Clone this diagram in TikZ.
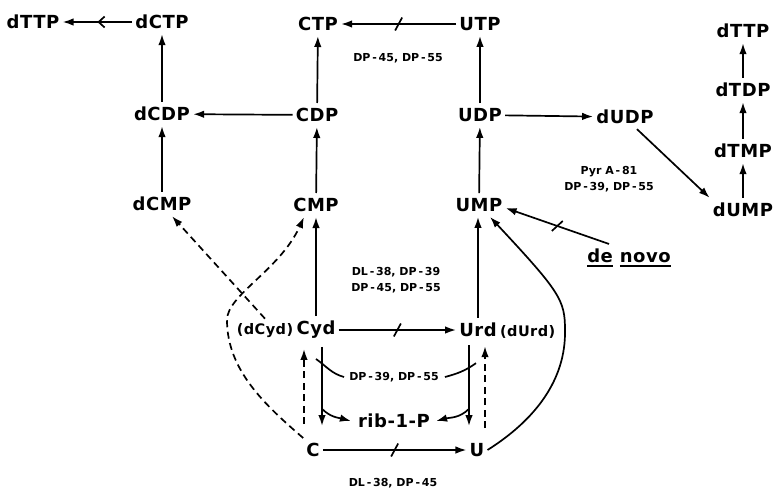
\documentclass[tikz,border=0pt]{standalone}
\usepackage{fontspec}
\setmainfont{DejaVu Sans}
\newfontfamily\metfont[LetterSpace=3]{DejaVu Sans Bold}
\usetikzlibrary{arrows.meta,decorations.markings,positioning,calc}

% thick underline as in the printed figure
\newcommand{\thickunder}[1]{\setbox0=\hbox{#1}\rlap{\rule[-4pt]{\wd0}{2pt}}\box0\relax}

\tikzset{
  met/.style={font=\metfont\fontsize{18}{20}\selectfont, inner xsep=3pt, inner ysep=5pt},
  submet/.style={font=\metfont\fontsize{14.5}{17}\selectfont, inner xsep=0pt, inner ysep=5pt},
  strain/.style={font=\bfseries\fontsize{11}{16}\selectfont, align=center, inner sep=1pt},
  arr/.style={-{Latex[length=11pt,width=7.5pt]}, line width=1.7pt},
  dsh/.style={arr, dash pattern=on 7pt off 4.5pt},
  leader/.style={line width=1.7pt},
  blocked/.style={postaction={decorate}, decoration={markings,
      mark=at position 0.5 with {\draw[-,line width=1.7pt] (-3.5pt,-6.5pt) -- (3.5pt,6.5pt);}}},
  midbarb/.style={postaction={decorate}, decoration={markings,
      mark=at position 0.5 with {\arrow[line width=1.7pt]{Straight Barb[length=6pt,width=11pt]}}}}
}

\begin{document}
\begin{tikzpicture}[x=1pt,y=1pt]
  \useasboundingbox (0,0) rectangle (773,-491);

  % top rows
  \node[met] (dTTPl) at (33,-22) {dTTP};
  \node[met] (dCTP) at (162,-22) {dCTP};
  \node[met] (CTP) at (318,-24) {CTP};
  \node[met] (UTP) at (480,-24) {UTP};
  \node[met] (dCDP) at (162,-114) {dCDP};
  \node[met] (CDP) at (317,-115) {CDP};
  \node[met] (UDP) at (480,-115) {UDP};
  \node[met] (dUDP) at (625,-117) {dUDP};
  \node[met] (dCMP) at (162,-204) {dCMP};
  \node[met] (CMP) at (316,-205) {CMP};
  \node[met] (UMP) at (479,-205) {UMP};

  % thymidine column
  \node[met] (dTTPr) at (743,-31) {dTTP};
  \node[met] (dTDP) at (743,-90) {dTDP};
  \node[met] (dTMP) at (743,-151) {dTMP};
  \node[met] (dUMP) at (743,-210) {dUMP};
  \node[met] (denovo) at (629,-258) {\thickunder{de} \thickunder{novo}};

  % salvage part
  \node[met] (Cyd) at (316,-330) {Cyd};
  \node[submet, anchor=base east] (dCyd) at (Cyd.base west) {(dCyd)};
  \node[met] (Urd) at (478,-330) {Urd};
  \node[submet, anchor=base west] (dUrd) at (Urd.base east) {(dUrd)};
  \node[met] (rib) at (394,-421) {rib-1-P};
  \node[met] (C) at (313,-450) {C};
  \node[met] (U) at (477,-450) {U};

  % strains
  \node[strain] (sUTP) at (398,-58) {DP\,-\,45, DP\,-\,55};
  \node[strain] (sdUDP) at (609,-179) {Pyr A\,-\,81\\DP\,-\,39, DP\,-\,55};
  \node[strain] (sCyd) at (396,-280) {DL\,-\,38, DP\,-\,39\\DP\,-\,45, DP\,-\,55};
  \node[strain] (srib) at (394,-377) {DP\,-\,39, DP\,-\,55};
  \node[strain] (sC) at (393,-483) {DL\,-\,38, DP\,-\,45};

  % phosphorylations
  \draw[arr, midbarb] (dCTP) -- (dTTPl);
  \draw[arr] (dCMP) -- (dCDP);
  \draw[arr] (dCDP) -- (dCTP);
  \draw[arr] (CDP) -- (dCDP);
  \draw[arr] (CMP) -- (CDP);
  \draw[arr] (CDP) -- (CTP);
  \draw[arr, blocked] (UTP) -- (CTP);
  \draw[arr] (UMP) -- (UDP);
  \draw[arr] (UDP) -- (UTP);
  \draw[arr] (UDP) -- (dUDP);
  \draw[arr] ([xshift=12pt]dUDP.south) -- (dUMP.north west);
  \draw[arr] (dUMP) -- (dTMP);
  \draw[arr] (dTMP) -- (dTDP);
  \draw[arr] (dTDP) -- (dTTPr);
  \draw[arr, blocked] ([xshift=-20pt]denovo.north) -- ([yshift=-3pt]UMP.east);

  % nucleosides and bases
  \draw[arr] (Cyd.north) -- (Cyd.north |- CMP.south);
  \draw[arr] (Urd.north) -- (Urd.north |- UMP.south);
  \draw[arr, blocked] (Cyd) -- (Urd);
  \draw[arr, blocked] (C) -- (U);
  \draw[arr, shorten <=3pt, shorten >=12pt] ([xshift=6pt]Cyd.south) -- ([xshift=6pt]Cyd.south |- C.north);
  \draw[dsh, shorten <=14pt, shorten >=5pt] ([xshift=-12pt]Cyd.south |- C.north) -- ([xshift=-12pt]Cyd.south);
  \draw[arr, shorten <=3pt, shorten >=12pt] ([xshift=-9pt]Urd.south) -- ([xshift=-9pt]Urd.south |- U.north);
  \draw[dsh, shorten <=10pt, shorten >=4pt] ([xshift=7pt]Urd.south |- U.north) -- ([xshift=7pt]Urd.south);
  \draw[arr] ([xshift=6pt]Cyd.south |- rib.north) to[out=-45,in=165] ([xshift=-4pt]rib.west);
  \draw[arr] ([xshift=-9pt]Urd.south |- rib.north) to[out=-135,in=15] ([xshift=3pt]rib.east);
  \coordinate (cydtick) at ([yshift=-15pt]Cyd.south);
  \coordinate (urdtick) at ([shift={(-2pt,-21pt)}]Urd.south);
  \draw[leader] ([xshift=-4pt]srib.west) to[out=165,in=-35] (cydtick);
  \draw[leader] ([xshift=5pt]srib.east) to[out=15,in=-145] (urdtick);
  \draw[arr] (U.east) .. controls (535,-420) and (566,-380) .. (565,-330)
    .. controls (565,-300) and (560,-292) .. ([xshift=11pt]UMP.south);
  \draw[dsh] (dCyd.north) -- ([xshift=10pt]dCMP.south);
  \draw[dsh] (C.north west) .. controls (265,-405) and (227,-370) .. (227,-320)
    .. controls (227,-295) and (280,-270) .. ([xshift=-12pt]CMP.south);
\end{tikzpicture}
\end{document}
